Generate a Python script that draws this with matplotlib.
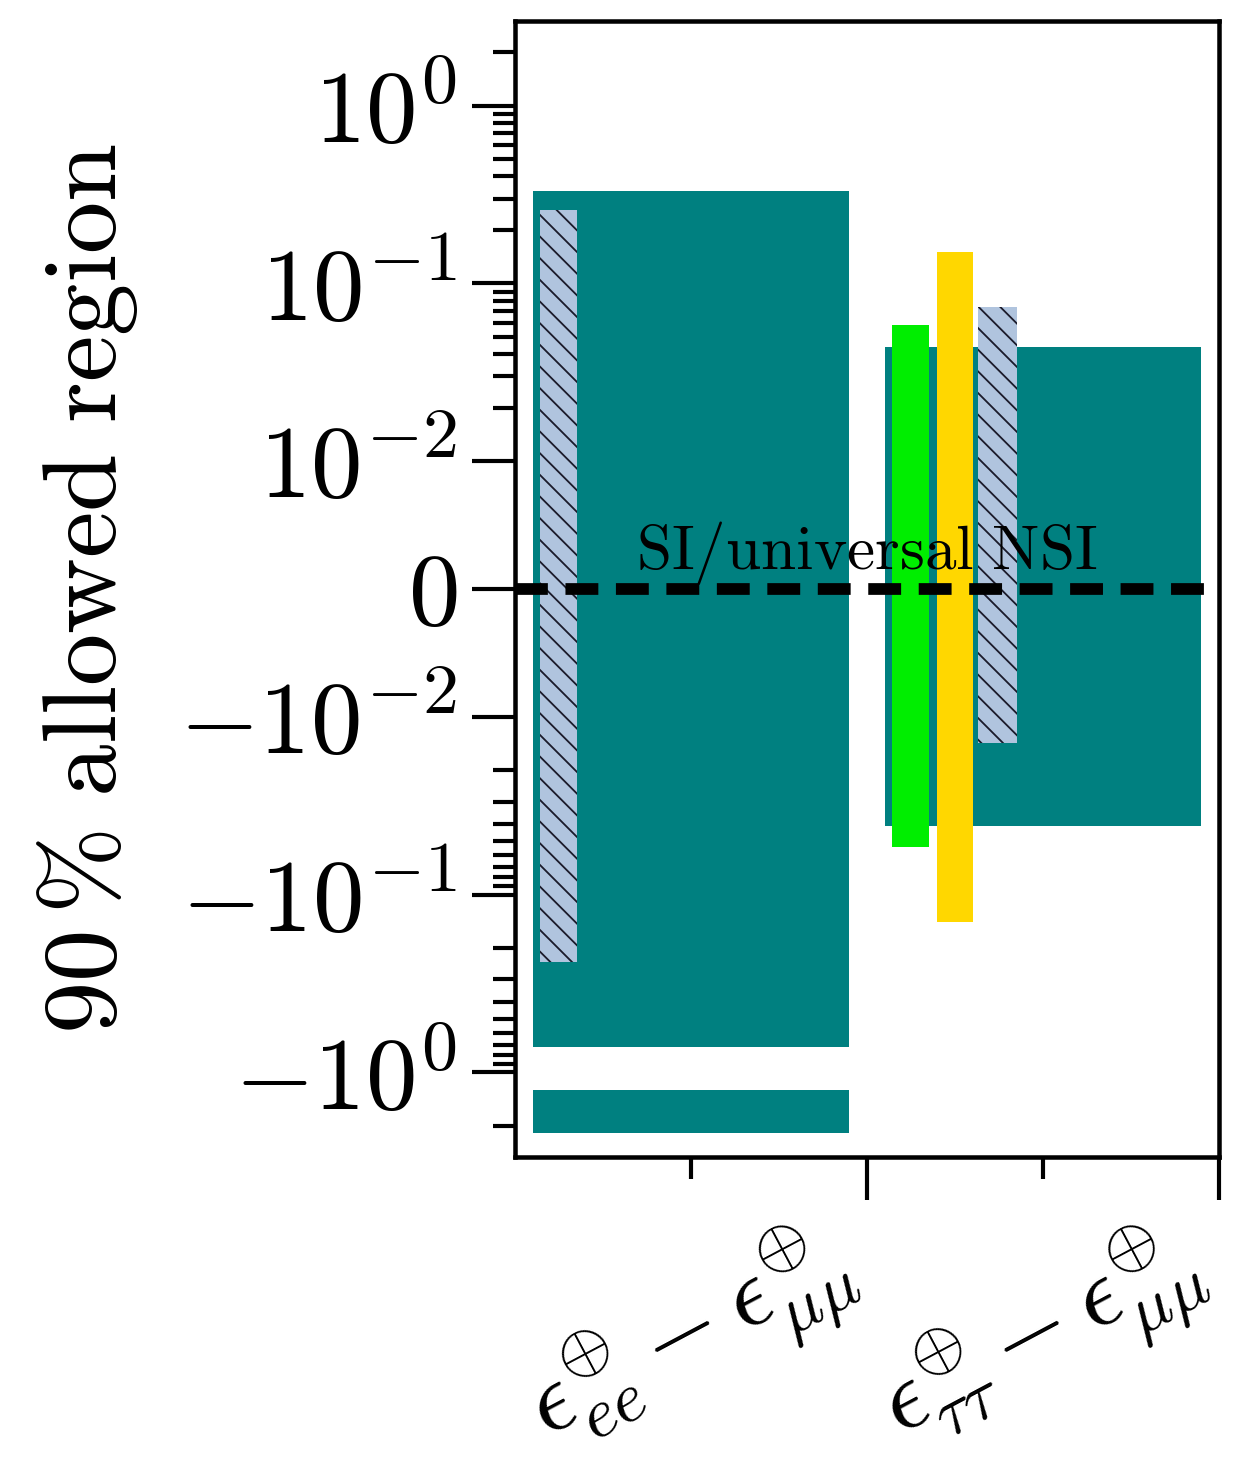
import numpy as np
import matplotlib
matplotlib.use("Agg")
import matplotlib.pyplot as plt
from matplotlib.ticker import FixedLocator, NullFormatter

plt.rcParams['mathtext.fontset'] = 'cm'
plt.rcParams['font.family'] = ['cmr10', 'DejaVu Serif']
plt.rcParams['axes.formatter.use_mathtext'] = True
plt.rcParams['hatch.linewidth'] = 1.0

# ---- data ----
categories = [r'$\epsilon^{\oplus}_{ee} - \epsilon^{\oplus}_{\mu\mu}$',
              r'$\epsilon^{\oplus}_{\tau\tau} - \epsilon^{\oplus}_{\mu\mu}$']
category_pos = [1, 3]

# teal (main allowed regions): left edge, right edge, lower, upper
teal_left = [0.10, 0.10, 2.10]
teal_right = [1.90, 1.90, 3.90]
teal_low = [-0.72, -2.2, -0.041]
teal_high = [0.33, -1.26, 0.044]

# hatched light-steel-blue regions
hatch_left = [0.14, 2.63]
hatch_right = [0.35, 2.85]
hatch_low = [-0.24, -0.0141]
hatch_high = [0.26, 0.074]

# green region
green_left = [2.14]
green_right = [2.35]
green_low = [-0.054]
green_high = [0.058]

# yellow region
yellow_left = [2.40]
yellow_right = [2.60]
yellow_low = [-0.143]
yellow_high = [0.15]

ref_label = r'$\mathrm{SI/universal\ NSI}$'
ylabel = r'$90\,\%\ \mathrm{allowed\ region}$'

DPI = 130
fig = plt.figure(figsize=(1239 / DPI, 1461 / DPI), dpi=DPI)
ax = fig.add_axes([515 / 1239, 1 - 1157 / 1461, (1219 - 515) / 1239, (1157 - 21) / 1461])

ax.set_yscale('symlog', linthresh=0.01, linscale=0.648)


def draw(lefts, rights, lows, highs, **kw):
    l = np.array(lefts); r = np.array(rights)
    lo = np.array(lows); hi = np.array(highs)
    ax.bar(l, hi - lo, width=r - l, bottom=lo, align='edge', linewidth=0, **kw)


draw(teal_left, teal_right, teal_low, teal_high, color='#008080', zorder=1)
draw(green_left, green_right, green_low, green_high, color='#00ee00', zorder=2)
draw(yellow_left, yellow_right, yellow_low, yellow_high, color='#ffd700', zorder=2)
draw(hatch_left, hatch_right, hatch_low, hatch_high, facecolor='#b0c4de',
     edgecolor='#1a1a2a', hatch='\\\\', zorder=2)

ax.axhline(0, color='black', lw=6.5, dashes=(2.8, 1.5), zorder=4)
ax.text(2.0, 0.0016, ref_label, ha='center', va='baseline', fontsize=35, zorder=5)

ax.set_xlim(0, 4)
ax.set_ylim(-3, 3)

# y ticks
majors = [-1, -0.1, -0.01, 0, 0.01, 0.1, 1]
ax.yaxis.set_major_locator(FixedLocator(majors))
minors = []
for d in [-2, -1, 0]:
    for k in range(2, 10):
        v = k * 10.0 ** d
        if v < 3:
            minors += [v, -v]
ax.yaxis.set_minor_locator(FixedLocator(minors))
ax.yaxis.set_minor_formatter(NullFormatter())

# x ticks
ax.xaxis.set_major_locator(FixedLocator([2, 4]))
ax.xaxis.set_major_formatter(NullFormatter())
ax.xaxis.set_minor_locator(FixedLocator(category_pos))
ax.set_xticklabels(categories, minor=True, rotation=28, ha='center', fontsize=55)

ax.tick_params(axis='both', which='major', direction='out', length=24, width=2.3)
ax.tick_params(axis='both', which='minor', direction='out', length=12, width=2.3)
ax.tick_params(axis='y', which='major', labelsize=57, pad=8)
ax.tick_params(axis='x', which='minor', pad=14)

for s in ax.spines.values():
    s.set_linewidth(2.5)

ax.set_ylabel(ylabel, fontsize=58, labelpad=22)

fig.savefig('out.png', dpi=DPI)
